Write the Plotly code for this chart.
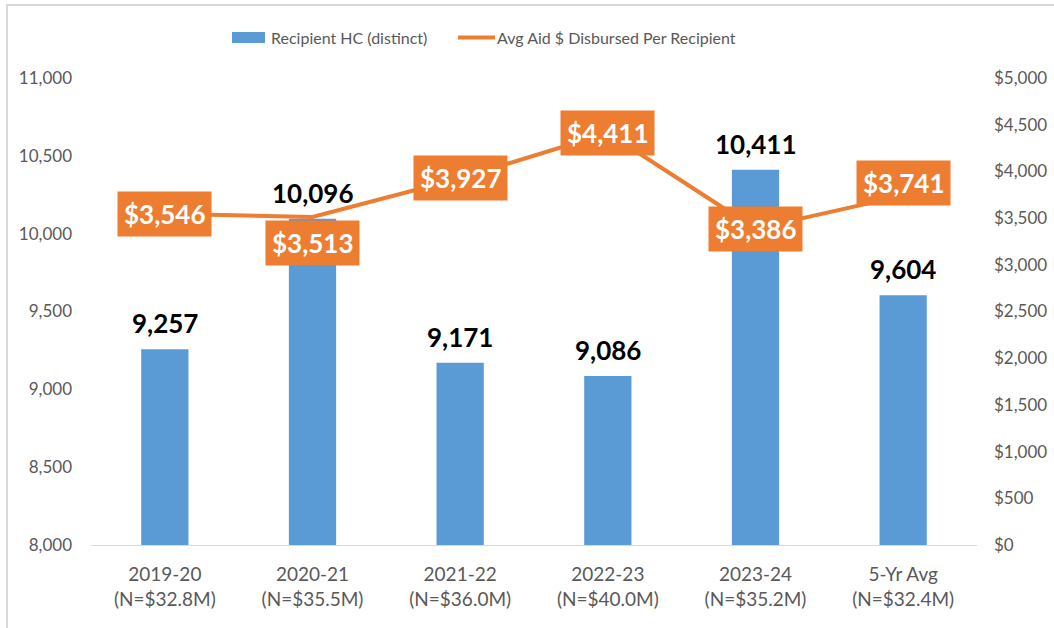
import plotly.graph_objects as go

categories = ["2019-20", "2020-21", "2021-22", "2022-23", "2023-24", "5-Yr Avg"]
totals = ["$32.8M", "$35.5M", "$36.0M", "$40.0M", "$35.2M", "$32.4M"]
recipients = [9257, 10096, 9171, 9086, 10411, 9604]
avg_aid = [3546, 3513, 3927, 4411, 3386, 3741]
label_shift = [0, -26, 0, 0, 0, 13]

bar_name = "Recipient HC (distinct)"
line_name = "Avg Aid $ Disbursed Per Recipient"

x_labels = [f"{c}<br>(N={t})" for c, t in zip(categories, totals)]

BLUE = "#5B9BD5"
ORANGE = "#ED7D31"
GRAY = "#595959"
FONT = "Lato, Liberation Sans Narrow, Arial, sans-serif"

fig = go.Figure()
fig.add_trace(go.Bar(
    x=x_labels, y=recipients, name=bar_name,
    marker=dict(color=BLUE, line=dict(width=0)), showlegend=False,
))
fig.add_trace(go.Scatter(
    x=x_labels, y=avg_aid, name=line_name, showlegend=False,
    mode="lines", line=dict(color=ORANGE, width=4), yaxis="y2",
))

# bar value labels
for xl, v in zip(x_labels, recipients):
    fig.add_annotation(
        x=xl, y=v, xref="x", yref="y", text=f"{v:,}", showarrow=False,
        yanchor="bottom", yshift=8,
        font=dict(color="black", size=26, family=FONT, weight="bold"),
    )

# line value labels
for xl, v, s in zip(x_labels, avg_aid, label_shift):
    fig.add_annotation(
        x=xl, y=v, xref="x", yref="y2", text=f"${v:,}", showarrow=False,
        bgcolor=ORANGE, borderpad=6, yshift=s,
        font=dict(color="white", size=26, family=FONT, weight="bold"),
    )

L, R, T, B = 91, 77, 78, 83
W, H = 1054, 628
pw, ph = W - L - R, H - T - B
px = lambda p: (p - L) / pw
py = lambda p: (H - B - p) / ph

# chart border (left & top visible)
fig.add_shape(type="rect", xref="paper", yref="paper",
              x0=px(7), x1=px(1060), y0=py(640), y1=py(5),
              line=dict(color="#D9D9D9", width=2), layer="below")

# custom legend
fig.add_shape(type="rect", xref="paper", yref="paper",
              x0=px(232), x1=px(265), y0=py(43), y1=py(32),
              fillcolor=BLUE, line=dict(width=0))
fig.add_annotation(xref="paper", yref="paper", x=px(269), y=py(37),
                   xanchor="left", yanchor="middle", showarrow=False,
                   text=bar_name, font=dict(size=16, color=GRAY))
fig.add_shape(type="line", xref="paper", yref="paper",
              x0=px(458), x1=px(495), y0=py(37.5), y1=py(37.5),
              line=dict(color=ORANGE, width=4))
fig.add_annotation(xref="paper", yref="paper", x=px(495), y=py(37),
                   xanchor="left", yanchor="middle", showarrow=False,
                   text=line_name, font=dict(size=16, color=GRAY))

fig.update_layout(
    width=W, height=H,
    margin=dict(l=L, r=R, t=T, b=B, autoexpand=False),
    paper_bgcolor="white", plot_bgcolor="white",
    font=dict(family=FONT, color=GRAY, size=17),
    bargap=0.68,
    showlegend=False,
    xaxis=dict(showline=True, linecolor="#D9D9D9", linewidth=1, showgrid=False,
               tickfont=dict(size=19, color=GRAY), ticks="", ticklabelstandoff=12,
               automargin=False),
    yaxis=dict(range=[8000, 11000], dtick=500, tickformat=",", showgrid=False,
               zeroline=False, showline=False, ticklabelstandoff=18,
               tickfont=dict(size=17, color=GRAY), automargin=False),
    yaxis2=dict(range=[0, 5000], dtick=500, tickformat=",", tickprefix="$",
                overlaying="y", side="right", showgrid=False, zeroline=False,
                showline=False, ticklabelstandoff=16, automargin=False,
                tickfont=dict(size=17, color=GRAY)),
)

fig.write_html("out.html", config={"displayModeBar": False},
               post_script="document.body.style.margin='0px';")
